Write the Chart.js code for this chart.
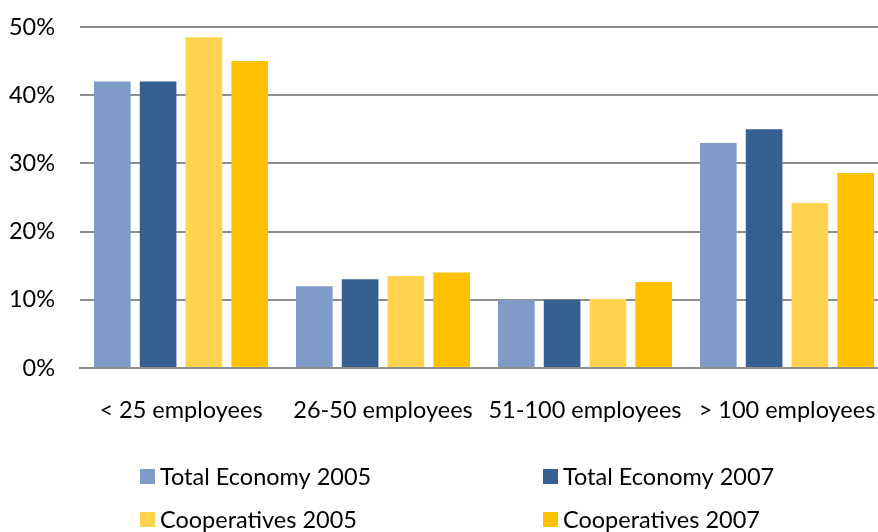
<!DOCTYPE html>
<html>
<head>
<meta charset="utf-8">
<script src="https://cdn.jsdelivr.net/npm/chart.js@4/dist/chart.umd.min.js"></script>
<style>
  html, body { margin: 0; padding: 0; background: #fff; overflow: hidden; }
  #wrap { width: 888px; height: 532px; }
</style>
</head>
<body>
<div id="wrap"><canvas id="myChart" width="888" height="532"></canvas></div>
<script>
var categories = ['< 25 employees', '26-50 employees', '51-100 employees', '> 100 employees'];
var seriesNames = ['Total Economy 2005', 'Total Economy 2007', 'Cooperatives 2005', 'Cooperatives 2007'];
var totalEconomy2005 = [42, 12, 10, 33];
var totalEconomy2007 = [42, 13, 10, 35];
var cooperatives2005 = [48.5, 13.5, 10.1, 24.2];
var cooperatives2007 = [45, 14, 12.6, 28.6];
var yTicks = [0, 10, 20, 30, 40, 50];

var colors = ['#7f9cc9', '#366092', '#ffd34d', '#ffc000'];
var font = { family: 'Lato', size: 23.5 };

// two-column legend under the axis
var gridLegend = {
    id: 'gridLegend',
    afterDraw: function(chart) {
        var ctx = chart.ctx;
        var cols = [140, 543];
        var rows = [476, 519];
        ctx.save();
        ctx.font = font.size + 'px ' + font.family;
        ctx.textBaseline = 'middle';
        ctx.textAlign = 'left';
        chart.data.datasets.forEach(function(ds, i) {
            var x = cols[i % 2];
            var y = rows[Math.floor(i / 2)];
            ctx.fillStyle = ds.backgroundColor;
            ctx.fillRect(x, y - 7, 15, 15);
            ctx.fillStyle = '#000';
            ctx.fillText(ds.label, x + 20, y + 1);
        });
        ctx.restore();
    }
};

var ctx = document.getElementById('myChart').getContext('2d');
var series = [totalEconomy2005, totalEconomy2007, cooperatives2005, cooperatives2007];
var myChart = new Chart(ctx, {
    type: 'bar',
    data: {
        labels: categories,
        datasets: series.map(function(values, i) {
            return {
                label: seriesNames[i],
                data: values,
                backgroundColor: colors[i],
                borderWidth: 0,
                categoryPercentage: 0.907,
                barPercentage: 0.80
            };
        })
    },
    options: {
        responsive: false,
        animation: false,
        layout: { padding: { top: 27, left: 0, right: 0, bottom: 110 } },
        plugins: {
            legend: { display: false },
            tooltip: { enabled: false }
        },
        scales: {
            x: {
                grid: { display: false, drawTicks: false },
                border: { display: true, color: '#8e8e8e', width: 2 },
                ticks: { color: '#000', font: font, padding: 28, maxRotation: 0, autoSkip: false },
                afterFit: function(axis) {
                    axis.height = 54;
                    axis.paddingLeft = 0;
                    axis.paddingRight = 0;
                }
            },
            y: {
                min: yTicks[0],
                max: yTicks[yTicks.length - 1],
                afterBuildTicks: function(axis) {
                    axis.ticks = yTicks.map(function(v) { return { value: v }; });
                },
                grid: { color: '#8e8e8e', lineWidth: 2, drawTicks: false },
                border: { display: false },
                ticks: {
                    color: '#000',
                    font: font,
                    padding: 25,
                    callback: function(v) { return v + '%'; }
                },
                afterFit: function(axis) {
                    axis.width = 80;
                    axis.paddingTop = 0;
                    axis.paddingBottom = 0;
                }
            }
        }
    },
    plugins: [gridLegend]
});
</script>
</body>
</html>
